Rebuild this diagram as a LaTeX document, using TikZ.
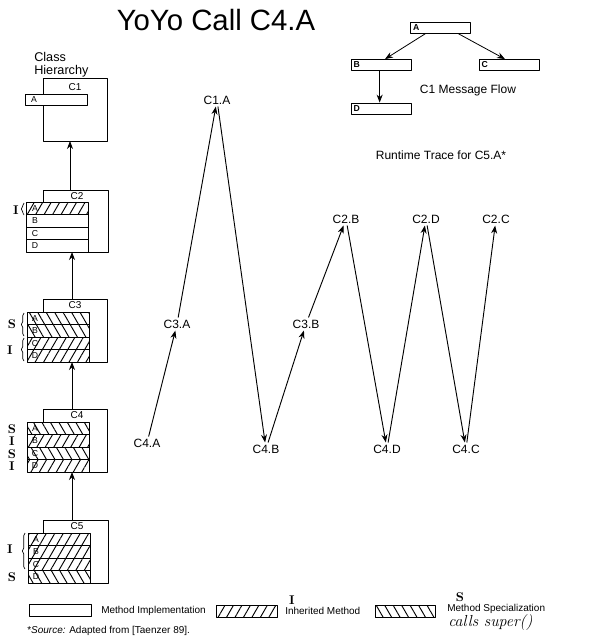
\documentclass[tikz,border=0pt]{standalone}
\usepackage{fontspec}
\setsansfont{Liberation Sans}
\usetikzlibrary{arrows.meta,patterns.meta,decorations.pathreplacing}

\tikzset{
  frame/.style={draw, line width=0.7pt},
  impl/.style={draw, line width=0.6pt, fill=white},
  inh/.style={draw, line width=0.6pt, preaction={fill=white},
    pattern={Lines[angle=60,distance=5.5pt,line width=0.7pt]}},
  spec/.style={draw, line width=0.6pt, preaction={fill=white},
    pattern={Lines[angle=120,distance=5.5pt,line width=0.7pt]}},
  mlbl/.style={font=\sffamily\fontsize{6.5}{7}\selectfont, inner sep=0pt},
  clbl/.style={font=\sffamily\fontsize{7.5}{8}\selectfont, inner sep=0pt},
  hand/.style={font=\rmfamily\bfseries\fontsize{9.5}{10}\selectfont, inner sep=0pt},
  brc/.style={decorate, decoration={brace, amplitude=2pt}, line width=0.5pt},
  call/.style={font=\sffamily\fontsize{9}{10}\selectfont, inner sep=1.5pt},
  trace/.style={->, line width=0.7pt},
  mbox/.style={draw, line width=0.6pt, minimum height=8.25pt, text width=41pt,
    inner xsep=2pt, inner ysep=0.5pt, align=left, font=\sffamily\bfseries\fontsize{6.5}{7}\selectfont},
  lgd/.style={font=\sffamily\fontsize{7.5}{9}\selectfont, inner sep=0pt, anchor=west},
}

\begin{document}
\begin{tikzpicture}[x=0.75pt, y=-0.75pt, >={Stealth[length=6pt,width=4.5pt]}, line join=round]
  \useasboundingbox (0,0) rectangle (598,643);

  % title
  \node[font=\sffamily\fontsize{22}{24}\selectfont] (title) at (216,20) {YoYo Call C4.A};

  % class hierarchy
  \node[font=\sffamily\fontsize{9.5}{9.5}\selectfont, align=left, anchor=north west, inner sep=0pt]
    (hier) at (34,52) {Class\\Hierarchy};

  % C1
  \draw[frame] (43,78) rectangle (107,141);
  \node[clbl] (c1) at (75,87) {C1};
  \draw[impl] (25,94) rectangle (87,105);
  \node[mlbl] (c1A) at (34,99.5) {A};
  \coordinate (c1bot) at (70,141);

  % C2
  \draw[frame] (43,190) rectangle (108,252);
  \node[clbl] (c2) at (77,196) {C2};
  \foreach \m/\s [count=\i from 0] in {A/inh,B/impl,C/impl,D/impl} {
    \draw[\s] (26,{202+\i*12.5}) rectangle ++(62,12.5);
    \node[mlbl] (c2\m) at (35,{208.25+\i*12.5}) {\m};
  }
  \node[hand] (c2I) at (16,210) {I};
  \draw[brc] (24,215) -- (24,203);
  \coordinate (c2top) at (70,190);
  \coordinate (c2bot) at (72,252);

  % C3
  \draw[frame] (43,299) rectangle (107,362);
  \node[clbl] (c3) at (75,305) {C3};
  \foreach \m/\s [count=\i from 0] in {A/spec,B/spec,C/inh,D/inh} {
    \draw[\s] (27,{312+\i*12.5}) rectangle ++(62,12.5);
    \node[mlbl] (c3\m) at (35,{318.25+\i*12.5}) {\m};
  }
  \node[hand] (c3S) at (12,324) {S};
  \node[hand] (c3I) at (10,350) {I};
  \draw[brc] (24,336) -- (24,313);
  \draw[brc] (24,361) -- (24,338);
  \coordinate (c3top) at (72,299);
  \coordinate (c3bot) at (72,362);

  % C4
  \draw[frame] (43,409) rectangle (107,472);
  \node[clbl] (c4) at (77,415) {C4};
  \foreach \m/\s/\h [count=\i from 0] in {A/spec/S,B/inh/I,C/spec/S,D/inh/I} {
    \draw[\s] (27,{422+\i*12.5}) rectangle ++(62,12.5);
    \node[mlbl] (c4\m) at (35,{428.25+\i*12.5}) {\m};
    \node[hand] (c4\m h) at (12,{429+\i*12.5}) {\h};
  }
  \coordinate (c4top) at (72,409);
  \coordinate (c4bot) at (72,472);

  % C5
  \draw[frame] (43,520) rectangle (108,583);
  \node[clbl] (c5) at (77,526) {C5};
  \foreach \m/\s [count=\i from 0] in {A/inh,B/inh,C/inh,D/spec} {
    \draw[\s] (28,{533+\i*12.5}) rectangle ++(62,12.5);
    \node[mlbl] (c5\m) at (36,{539.25+\i*12.5}) {\m};
  }
  \node[hand] (c5I) at (10,549) {I};
  \node[hand] (c5S) at (12,577) {S};
  \draw[brc] (25,569) -- (25,533);
  \coordinate (c5top) at (72,520);

  \draw[->, line width=0.7pt] (c2top) -- (c1bot);
  \draw[->, line width=0.7pt] (c3top) -- (c2bot);
  \draw[->, line width=0.7pt] (c4top) -- (c3bot);
  \draw[->, line width=0.7pt] (c5top) -- (c4bot);

  % C1 message flow
  \node[mbox] (fA) at (440.5,27.5) {A};
  \node[mbox] (fB) at (381,65) {B};
  \node[mbox] (fC) at (509,65) {C};
  \node[mbox] (fD) at (381,108.5) {D};
  \draw[->, line width=0.6pt] ([xshift=-11pt]fA.south) -- ([xshift=3pt]fB.north);
  \draw[->, line width=0.6pt] ([xshift=13pt]fA.south) -- ([xshift=-3pt]fC.north);
  \draw[->, line width=0.6pt] ([xshift=-1pt]fB.south) -- ([xshift=-1pt]fD.north);
  \node[font=\sffamily\fontsize{9}{10}\selectfont] (flow) at (468,90) {C1 Message Flow};
  \node[font=\sffamily\fontsize{9}{10}\selectfont] (rt) at (441,155) {Runtime Trace for C5.A*};

  % runtime trace
  \node[call] (c1a) at (217,100) {C1.A};
  \node[call] (c3a) at (177,324) {C3.A};
  \node[call] (c4a) at (147,443) {C4.A};
  \node[call] (c4b) at (266,449) {C4.B};
  \node[call] (c3b) at (306,324) {C3.B};
  \node[call] (c2b) at (346,219) {C2.B};
  \node[call] (c4d) at (387,449) {C4.D};
  \node[call] (c2d) at (426,219) {C2.D};
  \node[call] (c4c) at (466,449) {C4.C};
  \node[call] (c2c) at (496,219) {C2.C};
  \foreach \a/\b in {c4a/c3a, c3a/c1a, c1a/c4b, c4b/c3b, c3b/c2b, c2b/c4d, c4d/c2d, c2d/c4c, c4c/c2c}
    \draw[trace] (\a) -- (\b);

  % legend
  \draw[impl] (29,604) rectangle (91,616);
  \node[lgd] (limpl) at (101,611) {Method Implementation};
  \draw[inh] (216,605) rectangle (277,617);
  \node[hand] (linhI) at (292,600) {I};
  \node[lgd] (linh) at (285,611) {Inherited Method};
  \draw[spec] (375,605) rectangle (435,617);
  \node[hand] (lspecS) at (460,597) {S};
  \node[lgd] (lspec) at (447,609) {Method Specialization};
  \node[font=\rmfamily\itshape\fontsize{12}{12}\selectfont, inner sep=0pt, anchor=west] (lsuper) at (448,622) {calls super()};
  \node[font=\sffamily\fontsize{7.5}{8}\selectfont, inner sep=0pt, anchor=west] (src) at (27,631)
    {*\textit{Source:} Adapted from [Taenzer 89].};
\end{tikzpicture}
\end{document}
